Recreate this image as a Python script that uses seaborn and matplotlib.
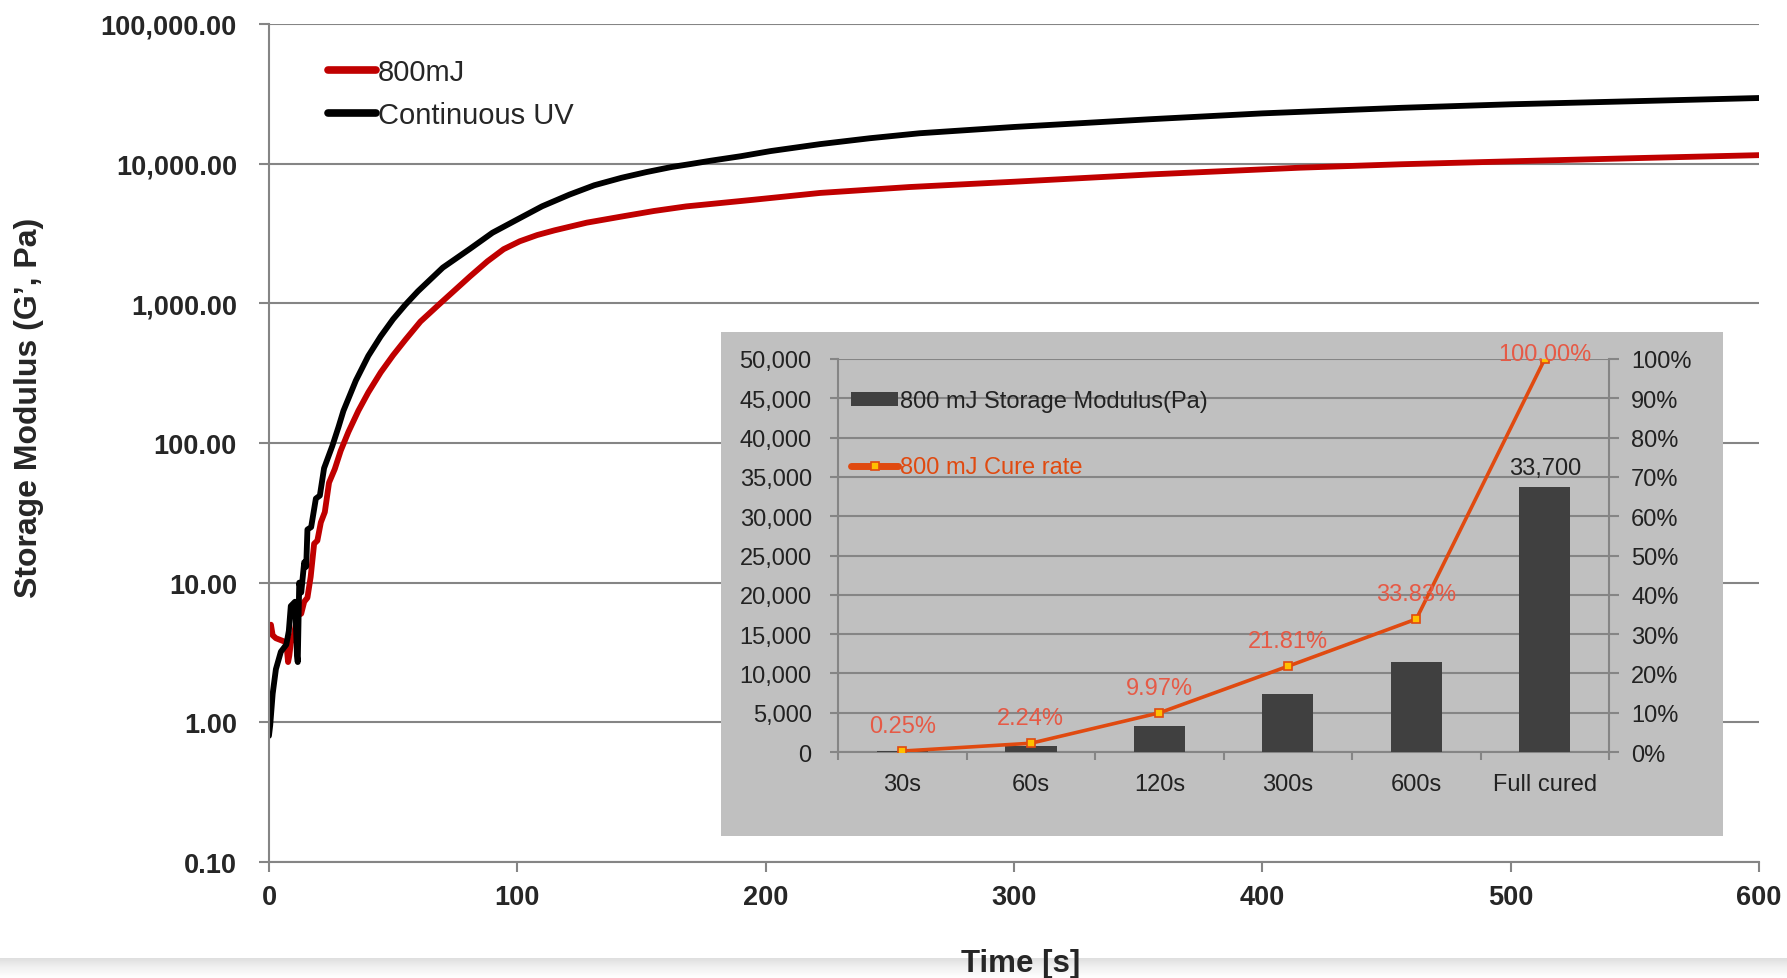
import matplotlib
matplotlib.use("Agg")
import matplotlib.pyplot as plt
from matplotlib.patches import Rectangle
from matplotlib.ticker import FuncFormatter, FixedLocator
import seaborn as sns
import numpy as np

# main rheology curves
t_uv = [0, 0.5, 1.5, 2.8, 4.8, 7.0, 8.0, 8.8, 10.5, 11.3, 11.6, 12.2, 13.0, 14.2, 15.0,
        15.5, 17.0, 18.9, 20.5, 22.2, 25.5, 28, 30, 35, 40, 45, 50, 55, 60, 70, 81, 90,
        101, 110, 121, 131, 142, 152, 162, 170, 178, 190, 202, 222, 242, 262, 300, 355,
        400, 456, 500, 550, 600]
g_uv = [0.8, 0.95, 1.6, 2.4, 3.2, 3.6, 4.5, 6.8, 7.3, 3.0, 2.7, 10, 8.5, 14, 13,
        24, 25, 40, 42, 66, 95, 130, 170, 280, 420, 580, 770, 980, 1220, 1800, 2460, 3200,
        4070, 4950, 6000, 7000, 7920, 8700, 9450, 9950, 10500, 11300, 12300, 13800, 15200,
        16500, 18300, 20800, 22900, 25100, 26600, 28000, 29500]

t_800 = [0.3, 0.8, 1.5, 2.8, 6.0, 7.0, 7.7, 8.2, 8.8, 10.0, 11.5, 13.0, 14.2, 15.5, 16.8,
         18.2, 19.5, 20.9, 22.5, 24.2, 26.5, 28.9, 32, 36, 40, 45, 50, 55, 61, 69, 81, 88,
         94.5, 101, 108, 115, 128, 142, 155, 168, 195, 222, 258, 300, 355, 415, 456, 510,
         555, 600]
g_800 = [4.9, 5.0, 4.2, 4.0, 3.8, 3.7, 2.7, 3.0, 3.7, 4.2, 5.8, 6.0, 7.3, 7.8, 11,
         19, 20, 27, 32, 52, 65, 88, 120, 170, 230, 320, 425, 550, 740, 1000, 1560, 2000,
         2440, 2780, 3080, 3330, 3780, 4180, 4580, 4940, 5510, 6170, 6800, 7420, 8370, 9350,
         9900, 10500, 11000, 11500]

# inset data
cats = ["30s", "60s", "120s", "300s", "600s", "Full cured"]
modulus = [84, 755, 3360, 7350, 11400, 33700]
cure_rate = [0.25, 2.24, 9.97, 21.81, 33.83, 100.00]
bar_labels = ["", "", "", "", "", "33,700"]

sns.set_style("white")
plt.rcParams["font.family"] = ["Liberation Sans", "DejaVu Sans"]

GREY = "#858585"
RED = "#C00000"
ORANGE = "#E04A10"
LABEL_RED = "#E65A46"
FS_IN = 17

fig = plt.figure(figsize=(17.87, 9.79), dpi=100)
ax = fig.add_axes([0.1505, 0.1185, 0.8338, 0.856])

sns.lineplot(x=t_800, y=g_800, ax=ax, color=RED, lw=4.2, sort=False, estimator=None,
             label="800mJ", solid_capstyle="round")
sns.lineplot(x=t_uv, y=g_uv, ax=ax, color="black", lw=4.2, sort=False, estimator=None,
             label="Continuous UV", solid_capstyle="round")
ax.set_yscale("log")
ax.set_ylim(0.1, 100000)
ax.set_xlim(0, 600)
ax.yaxis.set_major_locator(FixedLocator([0.1, 1, 10, 100, 1000, 10000, 100000]))
ax.yaxis.set_minor_locator(FixedLocator([]))
ax.yaxis.set_major_formatter(FuncFormatter(lambda v, p: f"{v:,.2f}"))
ax.set_xticks(range(0, 601, 100))
ax.grid(axis="y", color=GREY, lw=1.5)
ax.grid(axis="x", visible=False)
for s in ["top", "right"]:
    ax.spines[s].set_visible(False)
for s in ["left", "bottom"]:
    ax.spines[s].set_color(GREY)
    ax.spines[s].set_linewidth(1.5)
ax.tick_params(axis="both", which="major", direction="out", length=7, width=1.5,
               color=GREY, labelsize=19.5)
ax.tick_params(axis="y", left=True, pad=16)
ax.tick_params(axis="x", bottom=True, pad=8.5)
for lab in ax.get_xticklabels() + ax.get_yticklabels():
    lab.set_fontweight("bold")
ax.set_xlabel("")
ax.set_ylabel("")
leg = ax.legend(loc="upper left", bbox_to_anchor=(0.0396, 0.959), frameon=False,
                fontsize=21, handlelength=1.65, handletextpad=0.05, labelspacing=0.5,
                borderpad=0, borderaxespad=0)
for h in leg.get_lines():
    h.set_linewidth(5.5)
    h.set_solid_capstyle("round")

fig.text(0.0165, 0.583, "Storage Modulus (G\u2019, Pa)", rotation=90, ha="center",
         va="center", fontsize=23, fontweight="bold")
fig.text(0.5713, 0.007, "Time [s]", ha="center", va="baseline", fontsize=22.5,
         fontweight="bold", zorder=5)

# faint scan shadow along the bottom edge
shade = fig.add_axes([0, 0, 1, 20 / 979], zorder=-1)
shade.imshow(np.linspace(1, 0, 40).reshape(-1, 1) * np.ones((1, 2)), aspect="auto",
             cmap="Greys", vmin=0, vmax=4.5, extent=[0, 1, 0, 1], origin="upper")
shade.axis("off")

# inset panel
fig.add_artist(Rectangle((0.4035, 0.145), 0.5607, 0.515, transform=fig.transFigure,
                         facecolor="#C0C0C0", edgecolor="none", zorder=2))
ins = fig.add_axes([0.469, 0.2308, 0.4314, 0.4015], zorder=3)
ins.set_facecolor("none")
sns.barplot(x=cats, y=modulus, ax=ins, color="#404040", saturation=1, width=0.4,
            linewidth=0, label="800 mJ Storage Modulus(Pa)", zorder=3)
if ins.get_legend() is not None:
    ins.get_legend().remove()
ins.set_ylim(0, 50000)
ins.set_xlim(-0.5, 5.5)
ins.set_yticks(range(0, 50001, 5000))
ins.yaxis.set_major_formatter(FuncFormatter(lambda v, p: f"{v:,.0f}"))
ins.grid(axis="y", color=GREY, lw=1.5, zorder=0)
ins.grid(axis="x", visible=False)
ins.set_axisbelow(True)
ins.set_xticks(np.arange(-0.5, 6, 1), minor=True)
ins.tick_params(axis="x", which="major", length=0, labelsize=FS_IN, pad=15,
                colors="#222222")
ins.tick_params(axis="x", which="minor", length=6, width=1.5, color=GREY, bottom=True)
ins.tick_params(axis="y", which="major", length=6, width=1.5, color=GREY, left=True,
                labelsize=FS_IN, labelcolor="#222222", pad=13)
for s in ["top", "right"]:
    ins.spines[s].set_visible(False)
for s in ["left", "bottom"]:
    ins.spines[s].set_color(GREY)
    ins.spines[s].set_linewidth(1.5)
for i, txt in enumerate(bar_labels):
    if txt:
        ins.annotate(txt, (i, modulus[i]), xytext=(0, 6), textcoords="offset points",
                     ha="center", va="bottom", fontsize=FS_IN, color="#222222")

ax2 = ins.twinx()
ax2.set_zorder(4)
ax2.set_facecolor("none")
sns.lineplot(x=np.arange(len(cats)), y=cure_rate, ax=ax2, color=ORANGE, lw=2.6,
             marker="s", markersize=6, markerfacecolor="#FFC000", markeredgecolor=ORANGE,
             markeredgewidth=1.2, label="800 mJ Cure rate", legend=False)
ax2.set_ylim(0, 100)
ax2.set_yticks(range(0, 101, 10))
ax2.yaxis.set_major_formatter(FuncFormatter(lambda v, p: f"{v:.0f}%"))
ax2.tick_params(axis="y", length=7, width=1.5, color=GREY, right=True, labelsize=FS_IN,
                labelcolor="#222222", pad=9)
for s in ["top", "left", "bottom"]:
    ax2.spines[s].set_visible(False)
ax2.spines["right"].set_color(GREY)
ax2.spines["right"].set_linewidth(1.5)
ax2.grid(False)
ax2.set_ylabel("")
for i, v in enumerate(cure_rate):
    dy = -4 if v >= 100 else 10
    ax2.annotate(f"{v:.2f}%", (i, v), xytext=(0, dy), textcoords="offset points",
                 ha="center", va="bottom", fontsize=FS_IN, color=LABEL_RED,
                 annotation_clip=False)

h1, l1 = ins.get_legend_handles_labels()
h2, l2 = ax2.get_legend_handles_labels()
ileg = ax2.legend(h1 + h2, l1 + l2, loc="upper left", bbox_to_anchor=(0.017, 0.92),
                  frameon=False, fontsize=FS_IN, handlelength=2.0, handleheight=0.5,
                  handletextpad=0.05, labelspacing=1.86, borderpad=0, borderaxespad=0)
ileg.get_texts()[0].set_color("#222222")
ileg.get_texts()[1].set_color(ORANGE)
ileg.get_lines()[0].set_linewidth(5)
ileg.get_lines()[0].set_solid_capstyle("round")

fig.savefig("out.png", dpi=100)
